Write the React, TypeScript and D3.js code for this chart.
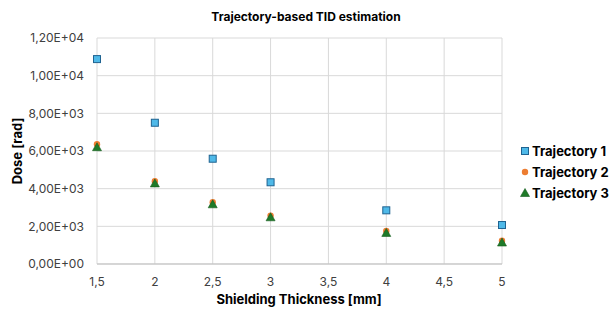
import * as d3 from 'd3'

const thickness = [1.5, 2, 2.5, 3, 4, 5]
const traj1 = [10880, 7500, 5590, 4340, 2850, 2070]
const traj2 = [6360, 4400, 3280, 2570, 1750, 1240]
const traj3 = [6200, 4280, 3170, 2480, 1650, 1140]
const xTicks = [1.5, 2, 2.5, 3, 3.5, 4, 4.5, 5]
const yTicks = [0, 2000, 4000, 6000, 8000, 10000, 12000]
const seriesNames = ['Trajectory 1', 'Trajectory 2', 'Trajectory 3']

const width = 613
const height = 310
const margin = { left: 97, right: 111, top: 38, bottom: 46 }

const fmtY = (v: number) => {
  const s = v.toExponential(2).replace('.', ',')
  const [m, e] = s.split('e')
  const n = parseInt(e, 10)
  return `${m}E${n < 0 ? '-' : '+'}${String(Math.abs(n)).padStart(2, '0')}`
}

const Marker = ({ kind, x, y }: { kind: number; x: number; y: number }) => {
  if (kind === 0)
    return <rect x={x - 3.5} y={y - 3.5} width={7} height={7} fill="#4fb9e8" stroke="#1f6391" strokeWidth={1} />
  if (kind === 1) return <circle cx={x} cy={y} r={3.2} fill="#ed7d31" />
  return <path d={`M${x},${y - 4.5}L${x + 4.5},${y + 3.5}L${x - 4.5},${y + 3.5}Z`} fill="#1e7a28" stroke="#145a1c" strokeWidth={0.6} />
}

const App = () => {
  const xScale = d3.scaleLinear().domain([1.5, 5]).range([margin.left, width - margin.right])
  const yScale = d3.scaleLinear().domain([0, 12000]).range([height - margin.bottom, margin.top])
  const series = [traj1, traj2, traj3]
  const font = 'Inter, "Open Sans", sans-serif'

  return (
    <div style={{ position: 'absolute', left: 0, top: 0 }}>
      <svg width={width} height={height} style={{ display: 'block', background: '#fff' }} fontFamily={font}>
        {yTicks.map(t => (
          <g key={t}>
            <line x1={margin.left} x2={width - margin.right} y1={yScale(t)} y2={yScale(t)} stroke="#d9d9d9" strokeWidth={1} />
            <text x={margin.left - 13} y={yScale(t)} dy="0.35em" textAnchor="end" fontSize={12} fill="#404040">
              {fmtY(t)}
            </text>
          </g>
        ))}
        {xTicks.map(t => (
          <g key={t}>
            <line x1={xScale(t)} x2={xScale(t)} y1={margin.top} y2={height - margin.bottom} stroke="#d9d9d9" strokeWidth={1} />
            <text x={xScale(t)} y={height - margin.bottom + 22} textAnchor="middle" fontSize={12} fill="#404040">
              {String(t).replace('.', ',')}
            </text>
          </g>
        ))}
        <line x1={margin.left} x2={width - margin.right} y1={yScale(0)} y2={yScale(0)} stroke="#bfbfbf" />
        {series.map((s, k) =>
          s.map((v, i) => <Marker key={`${k}-${i}`} kind={k} x={xScale(thickness[i])} y={yScale(v)} />)
        )}
        <text x={306} y={21} textAnchor="middle" fontSize={12} fontWeight="bold" fill="#000">
          Trajectory-based TID estimation
        </text>
        <text x={299} y={304} textAnchor="middle" fontSize={13} fontWeight="bold" fill="#000">
          Shielding Thickness [mm]
        </text>
        <text transform={`translate(22,${(margin.top + height - margin.bottom) / 2}) rotate(-90)`} textAnchor="middle" fontSize={13} fontWeight="bold" fill="#000">
          Dose [rad]
        </text>
        {seriesNames.map((n, k) => (
          <g key={n}>
            <Marker kind={k} x={525} y={151 + k * 21} />
            <text x={532} y={151 + k * 21} dy="0.35em" fontSize={13} fontWeight="bold" fill="#000">
              {n}
            </text>
          </g>
        ))}
      </svg>
    </div>
  )
}

export default App
